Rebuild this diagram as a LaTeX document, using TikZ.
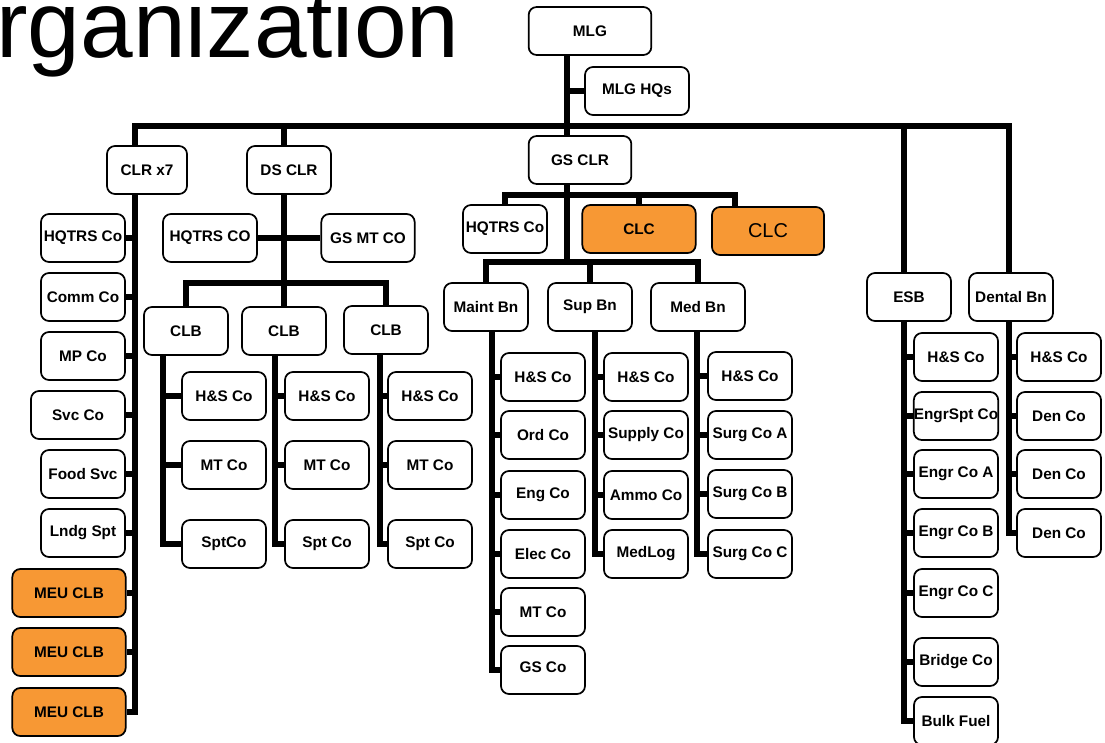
\documentclass[tikz,border=0pt]{standalone}
\usepackage{fontspec}
\setmainfont{Liberation Sans}
\definecolor{clcorange}{RGB}{247,152,52}

\begin{document}
\begin{tikzpicture}[x=0.75pt, y=-0.75pt,
	box/.style  = {draw, rounded corners=6pt, line width=1.3pt, fill=white, inner sep=0pt,
	               minimum width=63pt, minimum height=36pt, font=\fontsize{11.5}{12}\selectfont\bfseries},
	meu/.style  = {box, fill=clcorange, minimum width=85pt},
	bar/.style  = {line width=4.3pt}]
	\useasboundingbox (0,0) rectangle (1105,742);
	
	% title, cut at the page edge
	\node[anchor=base west, inner sep=0pt, font=\fontsize{71}{71}\selectfont] (title) at (-4,58) {rganization};
	
	% top of the tree
	\node[box, minimum width=92pt] (mlg) at (590,31) {MLG};
	\node[box, minimum width=78pt] (hq) at (637,91) {MLG HQs};
	\node[box, minimum width=60pt] (clr) at (147,170) {CLR x7};
	\node[box] (ds) at (289,170) {DS CLR};
	\node[box, minimum width=77pt] (gs) at (580,160) {GS CLR};
	\node[box] (esb) at (909,297) {ESB};
	\node[box] (den) at (1011,297) {Dental Bn};
	
	% CLR x7 column
	\foreach \i/\y/\t in {1/238/HQTRS Co, 2/297/Comm Co, 3/356/MP Co, 5/474/Food Svc, 6/533/Lndg Spt}
	\node[box] (clr\i) at (83,\y) {\t};
	\node[box, minimum width=70.5pt] (clr4) at (78,415) {Svc Co};
	\foreach \i/\y in {7/593, 8/652, 9/712}
	\node[meu] (clr\i) at (69,\y) {MEU CLB};
	
	% DS CLR and its CLBs
	\node[box, minimum width=70.5pt] (dshq) at (210,238) {HQTRS CO};
	\node[box, minimum width=70pt] (dsmt) at (368,238) {GS MT CO};
	\node[box] (clb1) at (186,331) {CLB};
	\node[box] (clb2) at (284,331) {CLB};
	\node[box] (clb3) at (386,330) {CLB};
	\foreach \p/\x/\s in {clb1/224/SptCo, clb2/327/Spt Co, clb3/430/Spt Co} {
		\node[box] (\p1) at (\x,396) {H\&S Co};
		\node[box] (\p2) at (\x,465) {MT Co};
		\node[box] (\p3) at (\x,544) {\s};
	}
	
	% GS CLR and its battalions
	\node[box] (gshq) at (505,229) {HQTRS Co};
	\node[meu] (clc1) at (639,229) {CLC};
	\node[meu, minimum width=84pt, font=\fontsize{15}{16}\selectfont] (clc2) at (768,231) {CLC};
	\node[box] (mnt) at (486,307) {Maint Bn};
	\node[box] (sup) at (590,307) {Sup Bn};
	\node[box, minimum width=70.5pt] (med) at (698,307) {Med Bn};
	
	\foreach \i/\y/\t in {1/377/H\&S Co, 2/435/Ord Co, 3/495/Eng Co, 4/554/Elec Co, 5/612/MT Co, 6/670/\raisebox{5pt}{GS Co}}
	\node[box] (mnt\i) at (543,\y) {\t};
	\foreach \i/\y/\t in {1/377/H\&S Co, 2/435/Supply Co, 3/495/Ammo Co, 4/554/MedLog}
	\node[box] (sup\i) at (646,\y) {\t};
	\foreach \i/\y/\t in {1/376/H\&S Co, 2/435/Surg Co A, 3/494/Surg Co B, 4/554/Surg Co C}
	\node[box] (med\i) at (750,\y) {\t};
	
	% ESB and Dental Bn
	\foreach \i/\y/\t in {1/357/H\&S Co, 2/416/EngrSpt Co, 3/474/Engr Co A, 4/533/Engr Co B, 5/593/Engr Co C, 6/662/Bridge Co, 7/721/Bulk Fuel}
	\node[box] (esb\i) at (956,\y) {\t};
	\foreach \i/\y/\t in {1/357/H\&S Co, 2/416/Den Co, 3/474/Den Co, 4/533/Den Co}
	\node[box] (den\i) at (1059,\y) {\t};
	
	% where the trunks start
	\coordinate (bus) at (567,126);
	\coordinate (Tmlg) at (567,55);
	\coordinate (Tclr) at (135,195);
	\coordinate (Tds) at (284,193);
	\coordinate (Tgs) at (567,183);
	\coordinate (dsbus) at (284,283);
	\coordinate (gb1) at (567,195);
	\coordinate (gb1r) at (735,195);
	\coordinate (gb2) at (567,262);
	\coordinate (Tclb1) at (163,354);
	\coordinate (Tclb2) at (275,354);
	\coordinate (Tclb3) at (380,353);
	\coordinate (Tmnt) at (492,331);
	\coordinate (Tsup) at (595,331);
	\coordinate (Tmed) at (697,331);
	\coordinate (Tesb) at (904,322);
	\coordinate (Tden) at (1009,322);
	
	% main bus and the drops from it
	\draw[bar] (clr.north -| Tclr) -- (Tclr |- bus) -- (bus -| Tden) -- (den.north -| Tden);
	\draw[bar] (bus -| Tds) -- (ds.north -| Tds);
	\draw[bar] (bus -| Tesb) -- (esb.north -| Tesb);
	\draw[bar] (Tmlg) -- (gs.north -| Tmlg);
	\draw[bar] (hq.west -| Tmlg) -- (hq.west);
	
	% DS CLR
	\draw[bar] (Tds) -- (clb2.north -| Tds);
	\draw[bar] (dshq.east) -- (dsmt.west);
	\draw[bar] (clb1.north) |- (dsbus) -| (clb3.north);
	
	% GS CLR
	\draw[bar] (Tgs) -- (gb2);
	\draw[bar] (gshq.north) |- (gb1r) -- (clc2.north -| gb1r);
	\draw[bar] (clc1.north) -- (clc1.north |- gb1);
	\draw[bar] (mnt.north) |- (gb2) -| (med.north);
	\draw[bar] (sup.north) -- (sup.north |- gb2);
	
	% lines from each parent to its companies
	\foreach \i in {1,...,9}
	\draw[bar] (Tclr) |- (clr\i.east);
	
	\foreach \p/\n in {clb1/3, clb2/3, clb3/3, mnt/6, sup/4, med/4, esb/7, den/4}
	\foreach \i in {1,...,\n}
	\draw[bar] (T\p) |- (\p\i.west);
\end{tikzpicture}
\end{document}
